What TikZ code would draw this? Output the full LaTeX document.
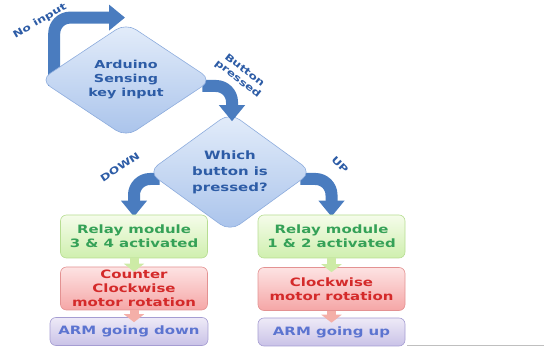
\documentclass[tikz,border=0pt]{standalone}
\usepackage{fontspec}
\newfontfamily\flowfont{DejaVu Sans}[FakeStretch=1.3]
\usetikzlibrary{shapes.geometric,arrows.meta,backgrounds}
\pgfdeclarelayer{front}
\pgfsetlayers{background,main,front}

\definecolor{diatop}{HTML}{E4EDFA}
\definecolor{diabot}{HTML}{A9C3EB}
\definecolor{diaedge}{HTML}{8DACDD}
\definecolor{flowblue}{HTML}{4A7CBF}
\definecolor{txtblue}{HTML}{2D5CA6}
\definecolor{grtop}{HTML}{F5FCEA}
\definecolor{grbot}{HTML}{CFEFAE}
\definecolor{gredge}{HTML}{B7DD92}
\definecolor{grtxt}{HTML}{35A157}
\definecolor{rdtop}{HTML}{FDE3E3}
\definecolor{rdbot}{HTML}{F5A6A6}
\definecolor{rdedge}{HTML}{E39292}
\definecolor{rdtxt}{HTML}{D42A2A}
\definecolor{pptop}{HTML}{EEEAF7}
\definecolor{ppbot}{HTML}{C9C2E7}
\definecolor{ppedge}{HTML}{A59DD2}
\definecolor{pptxt}{HTML}{5C74D0}
\definecolor{grarr}{HTML}{CDEBA6}
\definecolor{rdarr}{HTML}{F4AFA8}

\begin{document}
\begin{tikzpicture}[x=1pt,y=-1pt,
    decision/.style={diamond,draw=diaedge,line width=0.6pt,rounded corners=12pt,
      top color=diatop,bottom color=diabot,text=txtblue,align=center,inner sep=0pt,
      font=\flowfont\bfseries\fontsize{11}{14}\selectfont},
    stepbox/.style={rectangle,rounded corners=6pt,line width=0.6pt,align=center,inner sep=2pt,
      font=\flowfont\bfseries\fontsize{11.5}{14}\selectfont},
    relaybox/.style={stepbox,draw=gredge,top color=grtop,bottom color=grbot,text=grtxt,
      minimum width=147pt,minimum height=43pt},
    motorbox/.style={stepbox,draw=rdedge,top color=rdtop,bottom color=rdbot,text=rdtxt,
      minimum width=147pt,minimum height=43pt},
    armbox/.style={stepbox,draw=ppedge,top color=pptop,bottom color=ppbot,text=pptxt,
      minimum height=28pt},
    bigarrow/.style={line width=12pt,draw=flowblue,rounded corners=16pt,
      -{Triangle[width=25pt,length=16pt]}},
    smallarrow/.style={line width=9pt,-{Triangle[width=20pt,length=8pt]}},
    flowlabel/.style={text=txtblue,align=center,
      font=\flowfont\bfseries\fontsize{9.5}{11}\selectfont}]
  \useasboundingbox (0,0) rectangle (544,347);

  % 判定ノード
  \begin{pgfonlayer}{front}
    \node[decision,minimum width=172pt,minimum height=104pt] (ard) at (126,80)
      {Arduino\\Sensing\\key input};
  \end{pgfonlayer}
  \node[decision,minimum width=164pt,minimum height=100pt,
    font=\flowfont\bfseries\fontsize{11.5}{16}\selectfont] (dec) at (230,172)
    {Which\\button is\\pressed?};

  % 処理ボックス
  \node[relaybox] (relayl) at (134,236.5) {Relay module\\3 \& 4 activated};
  \node[motorbox] (motorl) at (134,288.5) {Counter\\Clockwise\\motor rotation};
  \node[armbox,minimum width=158pt] (arml) at (129,331.5) {ARM going down};
  \node[relaybox] (relayr) at (331.5,236.5) {Relay module\\1 \& 2 activated};
  \node[motorbox] (motorr) at (331.5,289) {Clockwise\\motor rotation};
  \node[armbox,minimum width=147pt] (armr) at (331.5,332) {ARM going up};

  % 太い矢印
  \draw[bigarrow] ([xshift=14.5pt,yshift=-6pt]ard.west) |- ([xshift=-1pt,yshift=5pt]ard.north);
  \draw[bigarrow] ([xshift=-10pt,yshift=-6pt]ard.east) -| ([xshift=2pt,yshift=-9pt]dec.north);
  \begin{pgfonlayer}{background}
    \draw[bigarrow,shorten >=-2pt] ([xshift=12pt,yshift=-7pt]dec.west) -| (relayl.north);
    \draw[bigarrow,shorten >=-2pt] ([xshift=-12pt,yshift=-7pt]dec.east) -| (relayr.north);
  \end{pgfonlayer}

  % 小さい矢印
  \draw[smallarrow,grarr,shorten >=-5pt] (relayl.south) -- (motorl.north);
  \draw[smallarrow,grarr,shorten >=-5pt] (relayr.south) -- (motorr.north);
  \draw[smallarrow,rdarr,shorten >=-5pt] (motorl.south) -- (motorl.south |- arml.north);
  \draw[smallarrow,rdarr,shorten >=-5pt] (motorr.south) -- (armr.north);

  % ラベル
  \node[flowlabel,rotate=30] (nolbl) at (40,21) {No input};
  \node[flowlabel,rotate=-38] (btnlbl) at (241,75) {Button\\pressed};
  \node[flowlabel,rotate=33] (downlbl) at (120,167) {DOWN};
  \node[flowlabel,rotate=-45] (uplbl) at (340,165) {UP};

  % 下端の線
  \draw[gray!50,line width=0.8pt] (407,345.5) -- (544,345.5);
\end{tikzpicture}
\end{document}
